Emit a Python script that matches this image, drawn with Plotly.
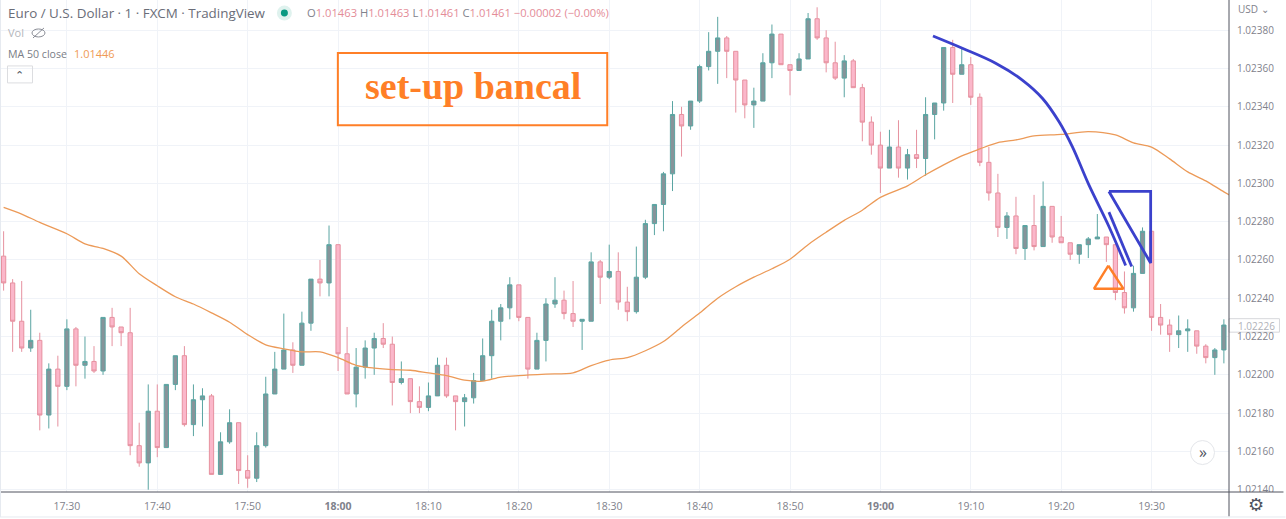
import pandas as pd
import plotly.graph_objects as go

# candle values in 1e-5 USD, one per minute from 17:23
opens = [102262, 102248, 102228, 102214, 102218, 102179, 102203, 102194, 102224, 102205, 102207, 102202,
         102230, 102225, 102222, 102163, 102154, 102181, 102162, 102195, 102210, 102174, 102187, 102189,
         102148, 102165, 102175, 102150, 102146, 102163, 102190, 102203, 102213, 102205, 102227, 102250, 102248,
         102268, 102211, 102190, 102204, 102214, 102219, 102216, 102196, 102198, 102186, 102183, 102189,
         102205, 102189, 102186, 102188, 102197, 102210, 102228, 102235, 102247, 102230, 102203, 102218,
         102237, 102239, 102232, 102228, 102228, 102259, 102251, 102254, 102238, 102233, 102251, 102279,
         102289, 102305, 102336, 102330, 102343, 102361, 102369, 102376, 102369, 102354, 102341, 102343,
         102363, 102378, 102362, 102359, 102365, 102386, 102376, 102363, 102355, 102364, 102350, 102332,
         102320, 102308, 102319, 102308, 102315, 102313, 102336, 102342, 102371, 102357, 102362, 102345,
         102311, 102295, 102277, 102283, 102266, 102278, 102267, 102288, 102272, 102269, 102263, 102268,
         102271, 102272, 102268, 102243, 102235, 102253, 102275, 102230, 102226, 102221, 102223, 102223,
         102215, 102209, 102213]
highs = [102275, 102250, 102249, 102234, 102222, 102206, 102210, 102229, 102225, 102220, 102215, 102230,
         102235, 102225, 102235, 102175, 102195, 102195, 102195, 102210, 102215, 102195, 102193, 102190,
         102170, 102182, 102175, 102158, 102170, 102199, 102212, 102232, 102217, 102233, 102250, 102260, 102278,
         102268, 102225, 102214, 102218, 102222, 102227, 102220, 102207, 102198, 102194, 102196, 102209,
         102209, 102189, 102190, 102201, 102219, 102234, 102237, 102251, 102247, 102230, 102222, 102240,
         102251, 102244, 102249, 102229, 102264, 102260, 102268, 102264, 102246, 102267, 102281, 102289,
         102306, 102343, 102340, 102343, 102362, 102379, 102387, 102377, 102369, 102354, 102350, 102368,
         102383, 102378, 102362, 102368, 102389, 102392, 102380, 102374, 102367, 102365, 102352, 102335,
         102327, 102328, 102333, 102318, 102328, 102345, 102342, 102371, 102375, 102371, 102366, 102347,
         102319, 102305, 102285, 102293, 102278, 102294, 102301, 102288, 102283, 102269, 102268, 102272,
         102284, 102272, 102268, 102254, 102257, 102277, 102275, 102237, 102229, 102231, 102229, 102223,
         102216, 102214, 102229]
lows = [102244, 102212, 102212, 102212, 102171, 102172, 102173, 102192, 102194, 102198, 102201, 102200,
        102215, 102215, 102158, 102152, 102140, 102157, 102162, 102192, 102173, 102168, 102173, 102148,
        102148, 102164, 102143, 102141, 102144, 102162, 102190, 102203, 102201, 102205, 102223, 102241, 102241,
        102202, 102190, 102183, 102198, 102200, 102214, 102184, 102195, 102180, 102180, 102181, 102189,
        102188, 102171, 102173, 102185, 102197, 102198, 102218, 102229, 102228, 102198, 102203, 102207,
        102235, 102229, 102225, 102213, 102228, 102237, 102250, 102234, 102228, 102232, 102250, 102273,
        102275, 102296, 102314, 102328, 102342, 102359, 102352, 102355, 102337, 102334, 102329, 102343,
        102355, 102362, 102346, 102359, 102365, 102375, 102358, 102354, 102345, 102350, 102322, 102315,
        102295, 102308, 102303, 102302, 102308, 102304, 102323, 102338, 102342, 102357, 102341, 102309,
        102291, 102272, 102271, 102263, 102260, 102265, 102267, 102269, 102269, 102260, 102258, 102261,
        102271, 102259, 102239, 102232, 102233, 102253, 102223, 102221, 102212, 102214, 102212, 102211,
        102206, 102200, 102206]
closes = [102248, 102228, 102214, 102218, 102179, 102203, 102194, 102224, 102205, 102207, 102202, 102230,
          102225, 102222, 102163, 102154, 102181, 102162, 102195, 102210, 102174, 102187, 102189, 102148,
          102165, 102175, 102150, 102146, 102163, 102190, 102203, 102213, 102205, 102227, 102250, 102248, 102268,
          102211, 102190, 102204, 102214, 102219, 102216, 102196, 102198, 102186, 102183, 102189, 102205,
          102189, 102186, 102188, 102197, 102210, 102228, 102235, 102247, 102230, 102203, 102218, 102237,
          102239, 102232, 102228, 102229, 102259, 102251, 102254, 102238, 102233, 102251, 102279, 102289,
          102305, 102336, 102330, 102343, 102361, 102369, 102376, 102369, 102354, 102341, 102343, 102363,
          102378, 102362, 102359, 102365, 102386, 102376, 102363, 102355, 102364, 102350, 102332, 102320,
          102308, 102319, 102308, 102315, 102313, 102336, 102342, 102371, 102357, 102362, 102345, 102311,
          102295, 102277, 102283, 102266, 102278, 102267, 102288, 102272, 102269, 102263, 102268, 102271,
          102272, 102268, 102243, 102235, 102253, 102275, 102230, 102226, 102221, 102223, 102224, 102215,
          102209, 102213, 102226]

# MA 50 close, read every couple of minutes
ma_times = ['17:23', '17:25', '17:27', '17:30', '17:32', '17:34', '17:36', '17:38', '17:40', '17:42', '17:44',
            '17:46', '17:48', '17:50', '17:52', '17:54', '17:56', '17:58', '18:00', '18:02', '18:04', '18:06',
            '18:08', '18:10', '18:12', '18:14', '18:16', '18:18', '18:20', '18:23', '18:26', '18:28', '18:30',
            '18:32', '18:34', '18:36', '18:38', '18:40', '18:42', '18:44', '18:46', '18:48', '18:50', '18:52',
            '18:54', '18:56', '18:58', '19:00', '19:03', '19:05', '19:07', '19:09', '19:11', '19:13', '19:15',
            '19:17', '19:20', '19:23', '19:26', '19:28', '19:30', '19:32', '19:34', '19:36', '19:38', '19:39']
ma_values = [102287.5, 102284, 102279.6, 102273.7, 102268.4, 102266, 102262, 102252.8, 102246.5, 102240.8, 102237,
             102232.4, 102227.5, 102221, 102215.7, 102213.6, 102212, 102212, 102209, 102205, 102203.5, 102202.7,
             102202.4, 102201, 102199.6, 102197.2, 102196.7, 102198.8, 102199.6, 102200.4, 102201, 102204.8,
             102207.7, 102209, 102212.6, 102217.4, 102225, 102232.3, 102240, 102246, 102251, 102255.4, 102260.4,
             102268, 102274.5, 102280.7, 102286, 102292.7, 102298.7, 102304.5, 102309.7, 102314.4, 102318,
             102321.3, 102322.7, 102324.8, 102325.6, 102327, 102325.3, 102321.2, 102319, 102312.8, 102306,
             102301.3, 102295.6, 102293]

# hand drawn marks on the chart
blue_curve_times = ['19:05:49', '19:09:04', '19:12:45', '19:15:42', '19:17:55', '19:19:45', '19:21:14', '19:23:04',
                    '19:25:17', '19:27:08']
blue_curve_values = [102377, 102370.6, 102362.8, 102354, 102344.5, 102332.3, 102319.2, 102299.2, 102277.5, 102257.1]
blue_stroke_times = ['19:25:17', '19:27:48']
blue_stroke_values = [102285, 102256.6]
blue_tri_times = ['19:25:17', '19:29:54', '19:29:54', '19:25:17']
blue_tri_values = [102295.8, 102295.8, 102258.4, 102295.8]
orange_tri_times = ['19:25:13', '19:23:38', '19:26:53', '19:25:13']
orange_tri_values = [102257, 102245, 102245, 102257]

price_ticks = [1.0214, 1.0216, 1.0218, 1.0220, 1.0222, 1.0224, 1.0226, 1.0228, 1.0230, 1.0232, 1.0234, 1.0236, 1.0238]
time_ticks = ['17:30', '17:40', '17:50', '18:00', '18:10', '18:20', '18:30', '18:40', '18:50', '19:00', '19:10',
              '19:20', '19:30']

DAY = '2022-07-14 '
W, H = 1286, 519
plot_w, plot_h = 1229.5, 492.5


def stamp(times):
    return [DAY + t for t in times]


def price(points):
    return [p / 100000 for p in points]


def xp(x):
    return x / plot_w


def yp(y):
    return 1 - y / plot_h


candles = pd.DataFrame({'open': opens, 'high': highs, 'low': lows, 'close': closes}) / 100000
candles['time'] = pd.date_range(DAY + '17:23', periods=len(candles), freq='min')

fig = go.Figure()
fig.add_trace(go.Candlestick(
    x=candles['time'], open=candles['open'], high=candles['high'], low=candles['low'], close=candles['close'],
    increasing=dict(line=dict(color='#5aa5a2', width=1), fillcolor='#86949a'),
    decreasing=dict(line=dict(color='#e6919f', width=1), fillcolor='#fbb7ca'),
    whiskerwidth=0, hoverinfo='skip',
))
fig.add_trace(go.Scatter(x=stamp(ma_times), y=price(ma_values), mode='lines',
                         line=dict(color='#ec9a58', width=1.3, shape='spline', smoothing=0.8)))
fig.add_trace(go.Scatter(x=stamp(orange_tri_times), y=price(orange_tri_values), mode='lines',
                         line=dict(color='#ff7f27', width=2.4)))
for tx, ty in [(blue_curve_times, blue_curve_values), (blue_stroke_times, blue_stroke_values),
               (blue_tri_times, blue_tri_values)]:
    fig.add_trace(go.Scatter(x=stamp(tx), y=price(ty), mode='lines',
                             line=dict(color='#3b41cc', width=2.8, shape='spline' if tx is blue_curve_times else 'linear')))

grey = '#7f828c'
label_font = 'Open Sans'


def note(x, y, text, size=11, color=grey, anchor='left', family=label_font):
    fig.add_annotation(xref='paper', yref='paper', x=xp(x), y=yp(y), text=text, showarrow=False,
                       xanchor=anchor, yanchor='middle', align='left', borderpad=0,
                       font=dict(family=family, size=size, color=color))


val = '<span style="color:#e48c98">%s</span>'
note(7, 13, 'Euro / U.S. Dollar · 1 · FXCM · TradingView', size=13.4, color='#6a6d78')
note(306, 13, 'O' + val % '1.01463' + ' H' + val % '1.01463' + ' L' + val % '1.01461' + ' C' + val % '1.01461'
     + ' ' + val % '−0.00002 (−0.00%)', size=11.2)
note(7, 33, 'Vol', size=11, color='#b4b6bc')
note(7, 54, 'MA 50 close', size=10.6, color='#7a7d86')
note(73, 54, '1.01446', size=11, color='#ef9a55')
note(20, 76, '⌃', size=11, color='#50535e', anchor='center', family='DejaVu Sans')
note(473, 86, '<b>set-up bancal</b>', size=38, color='#ff7f27', anchor='center', family='Liberation Serif')
note(1238, 9, 'USD ⌄', size=10, color=grey, family='Open Sans')
note(1238, 326, '1.02226', size=10, color='#b0b2b8')
note(1203, 452, '»', size=16, color='#50535e', anchor='center')
note(1257, 505, '⚙', size=18, color='#50535e', anchor='center', family='DejaVu Sans')


def deco(kind, x0, x1, y0, y1, **style):
    return dict(type=kind, xref='paper', yref='paper', x0=xp(x0), x1=xp(x1), y0=yp(y0), y1=yp(y1), **style)


shapes = [
    # setup box
    deco('rect', 338, 607.5, 53, 125.5, line=dict(color='#ff7f27', width=2)),
    # status dot
    deco('circle', 277, 292, 5.5, 20.5, fillcolor='#dff2ee', line_width=0),
    deco('circle', 281, 288, 9.5, 16.5, fillcolor='#089981', line_width=0),
    # crossed eye next to Vol
    deco('circle', 32, 45, 29, 37, line=dict(color='#8a8d96', width=1)),
    deco('line', 33, 44, 38, 28, line=dict(color='#8a8d96', width=1)),
    # collapse button
    deco('rect', 7.5, 32.5, 66, 83, line=dict(color='#dcdde0', width=1)),
    # hide the lower half of the clipped 1.02140 label
    deco('rect', 1230, W, 492.5, 519, fillcolor='white', line_width=0, layer='above'),
    # price flag
    deco('rect', 1229.5, 1280, 319, 332.5, fillcolor='white', line=dict(color='#d6d7db', width=1), layer='below'),
    # axis lines running on past the plot, outer frame
    deco('line', 0, 1284, 492.5, 492.5, line=dict(color='#50535e', width=1), layer='above'),
    deco('line', 1229.5, 1229.5, 0, 517, line=dict(color='#50535e', width=1), layer='above'),
    deco('line', 0, W, 517.5, 517.5, line=dict(color='#e6eaf0', width=1), layer='above'),
    deco('line', 0.5, 0.5, 0, 517.5, line=dict(color='#e6eaf0', width=1), layer='above'),
    # scroll button
    deco('circle', 1191, 1215, 441, 465, fillcolor='white', line=dict(color='#e4e6ea', width=1), layer='above'),
]
fig.update_layout(shapes=shapes)

fig.update_layout(
    width=W, height=H, showlegend=False, plot_bgcolor='white', paper_bgcolor='white',
    margin=dict(l=0, r=W - plot_w, t=0, b=H - plot_h, pad=0, autoexpand=False),
    boxgap=0.33,
    xaxis=dict(range=[DAY + '17:22:36', DAY + '19:38:34'], rangeslider_visible=False, showline=False, zeroline=False,
               tickvals=stamp(time_ticks),
               ticktext=['<b>%s</b>' % t if t in ('18:00', '19:00') else t for t in time_ticks],
               showgrid=True, gridcolor='#f0f3f8', gridwidth=1, ticks='outside', ticklen=4, tickcolor='white',
               tickfont=dict(family=label_font, size=10.5, color=grey)),
    yaxis=dict(range=[1.021388, 1.023958], side='right', tickvals=price_ticks, tickformat='.5f', showline=False,
               zeroline=False, showgrid=True, gridcolor='#f0f3f8', gridwidth=1, ticks='outside', ticklen=5,
               tickcolor='white', tickfont=dict(family=label_font, size=10, color=grey)),
)

fig.write_html("out.html", config=dict(displayModeBar=False), post_script="document.body.style.margin='0';")
